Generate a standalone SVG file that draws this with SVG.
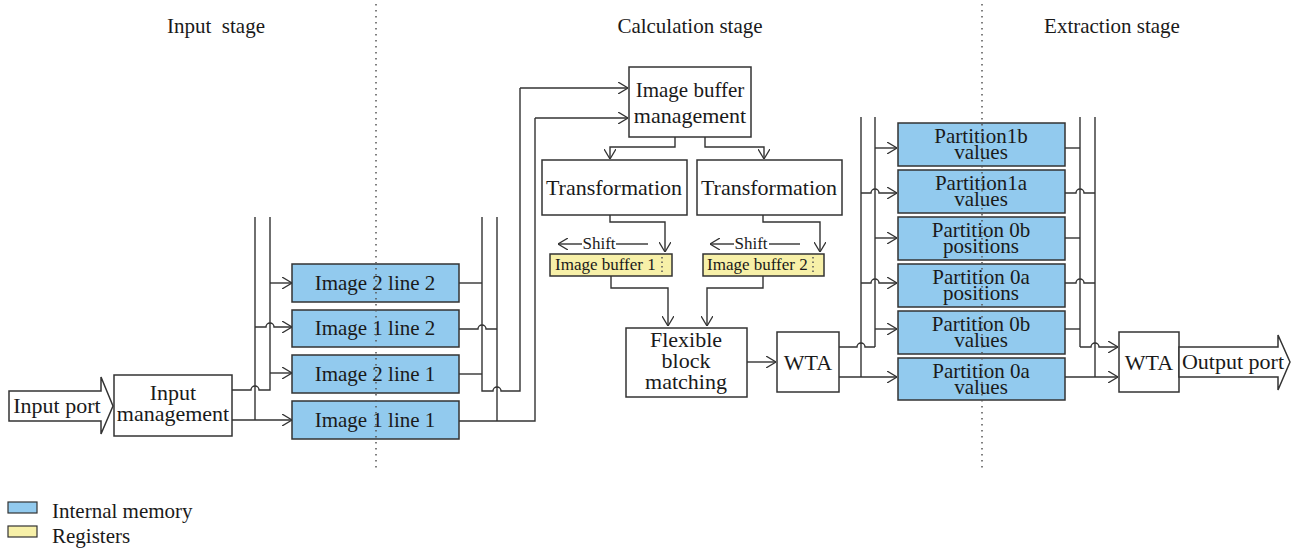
<svg xmlns="http://www.w3.org/2000/svg" width="1303" height="553" viewBox="0 0 1303 553" font-family="'Liberation Serif','Times New Roman',serif">
<defs>
<marker id="ah" viewBox="0 0 10 12" refX="10" refY="6" markerWidth="10" markerHeight="12" markerUnits="userSpaceOnUse" orient="auto">
<path d="M0,0 L10,6 L0,12" fill="none" stroke="#333" stroke-width="1.3"/>
</marker>
</defs>
<style>
text{font-family:"Liberation Serif","Times New Roman",serif;fill:#1a1a1a;}
.t{font-size:21px;text-anchor:middle;}
.p{font-size:21px;text-anchor:middle;}
.h{font-size:21px;text-anchor:middle;}
.s{font-size:17px;text-anchor:middle;}
.b{fill:#fff;stroke:#333;stroke-width:1.5;}
.m{fill:#92caee;stroke:#333;stroke-width:1.5;}
.r{fill:#f7f0a8;stroke:#333;stroke-width:1.5;}
.c{fill:none;stroke:#333;stroke-width:1.4;}
.a{fill:none;stroke:#333;stroke-width:1.4;marker-end:url(#ah);}
.d{fill:none;stroke:#555;stroke-width:1.5;stroke-dasharray:1.5,4.5;}
</style>
<rect width="1303" height="553" fill="#fff"/>

<g id="headers">
<text class="h" x="216" y="33" xml:space="preserve">Input  stage</text>
<text class="h" x="690" y="33">Calculation stage</text>
<text class="h" x="1112" y="33">Extraction stage</text>
</g>

<g id="connectors">
<path class="c" d="M232,390 H251 a4,4 0 0 1 8,0 H270 V217"/>
<path class="c" d="M255,217 V420"/>
<path class="a" d="M232,420 H292"/>
<path class="a" d="M255,327 H266 a4,4 0 0 1 8,0 H292"/>
<path class="a" d="M270,283 H292"/>
<path class="a" d="M270,373 H292"/>
<path class="c" d="M459,283 H482"/>
<path class="c" d="M459,329 H478 a4,4 0 0 1 8,0 H497"/>
<path class="c" d="M459,374 H482"/>
<path class="c" d="M482,217 V391 H493 a4,4 0 0 1 8,0 H520 V88"/>
<path class="c" d="M497,217 V421"/>
<path class="c" d="M459,421 H535 V118"/>
<path class="a" d="M520,88 H628"/>
<path class="a" d="M535,118 H628"/>
<path class="a" d="M675,137 V147 H610 V159"/>
<path class="a" d="M705,137 V147 H764 V159"/>
<path class="a" d="M610,215 V222 H665 V252"/>
<path class="a" d="M763,215 V222 H820 V252"/>
<path class="a" d="M582,244 H558"/>
<path class="c" d="M616,244 H648"/>
<path class="a" d="M734,244 H710"/>
<path class="c" d="M769,244 H800"/>
<path class="a" d="M611,276 V288 H668 V326"/>
<path class="a" d="M763,276 V288 H707 V326"/>
<path class="a" d="M747,362 H776"/>
<path class="c" d="M839,347 H857 a4,4 0 0 1 8,0 H875"/>
<path class="a" d="M839,377 H897"/>
<path class="c" d="M861,117 V377"/>
<path class="c" d="M875,117 V347"/>
<path class="a" d="M875,148 H897"/>
<path class="a" d="M875,238 H897"/>
<path class="a" d="M875,329 H897"/>
<path class="a" d="M861,193 H871 a4,4 0 0 1 8,0 H897"/>
<path class="a" d="M861,283 H871 a4,4 0 0 1 8,0 H897"/>
<path class="c" d="M1065,148 H1080"/>
<path class="c" d="M1065,238 H1080"/>
<path class="c" d="M1065,329 H1080"/>
<path class="c" d="M1065,193 H1076 a4,4 0 0 1 8,0 H1095"/>
<path class="c" d="M1065,283 H1076 a4,4 0 0 1 8,0 H1095"/>
<path class="c" d="M1080,117 V347"/>
<path class="c" d="M1095,117 V377"/>
<path class="a" d="M1080,347 H1091 a4,4 0 0 1 8,0 H1118"/>
<path class="a" d="M1065,377 H1118"/>
</g>

<g id="input-port">
<path class="b" d="M9,391 H101 V377 L113,406 L101,434 V421 H9 Z"/>
<text x="57" y="413" class="t" style="font-size:22px">Input port</text>
</g>

<g id="input-management">
<rect class="b" x="114" y="375" width="118" height="61"/>
<text class="t" x="173" y="400" style="font-size:22px">Input</text>
<text class="t" x="173" y="421" style="font-size:22px">management</text>
</g>

<g id="image2-line2">
<rect class="m" x="292" y="264" width="167" height="38"/>
<text class="t" x="375" y="290">Image 2 line 2</text>
</g>
<g id="image1-line2">
<rect class="m" x="292" y="310" width="167" height="37"/>
<text class="t" x="375" y="335">Image 1 line 2</text>
</g>
<g id="image2-line1">
<rect class="m" x="292" y="355" width="167" height="38"/>
<text class="t" x="375" y="381">Image 2 line 1</text>
</g>
<g id="image1-line1">
<rect class="m" x="292" y="401" width="167" height="38"/>
<text class="t" x="375" y="427">Image 1 line 1</text>
</g>

<g id="image-buffer-management">
<rect class="b" x="629" y="67" width="122" height="70"/>
<text class="t" x="690" y="97">Image buffer</text>
<text class="t" x="690" y="123" style="font-size:22px">management</text>
</g>

<g id="transformation1">
<rect class="b" x="542" y="160" width="145" height="55"/>
<text class="t" x="614" y="195" style="font-size:22px">Transformation</text>
</g>
<g id="transformation2">
<rect class="b" x="697" y="160" width="145" height="55"/>
<text class="t" x="769" y="195" style="font-size:22px">Transformation</text>
</g>

<g id="shift-labels">
<text class="s" x="599" y="249">Shift</text>
<text class="s" x="751" y="249">Shift</text>
</g>

<g id="image-buffer1">
<rect class="r" x="550" y="254" width="122" height="22"/>
<text x="555" y="270" style="font-size:17px">Image buffer 1</text>
<line class="d" x1="662" y1="257" x2="662" y2="274" style="stroke-dasharray:1.5,3"/>
</g>
<g id="image-buffer2">
<rect class="r" x="703" y="254" width="121" height="22"/>
<text x="707" y="270" style="font-size:17px">Image buffer 2</text>
<line class="d" x1="813" y1="257" x2="813" y2="274" style="stroke-dasharray:1.5,3"/>
</g>

<g id="flexible-block-matching">
<rect class="b" x="626" y="328" width="121" height="69"/>
<text class="t" x="686" y="347" style="font-size:22px">Flexible</text>
<text class="t" x="686" y="368" style="font-size:22px">block</text>
<text class="t" x="686" y="389" style="font-size:22px">matching</text>
</g>

<g id="wta1">
<rect class="b" x="777" y="332" width="62" height="60"/>
<text class="t" x="808" y="370" style="font-size:22px">WTA</text>
</g>

<g id="partition1b-values">
<rect class="m" x="898" y="123" width="167" height="43"/>
<text class="p" x="981" y="143">Partition1b</text>
<text class="p" x="981" y="159">values</text>
</g>
<g id="partition1a-values">
<rect class="m" x="898" y="170" width="167" height="43"/>
<text class="p" x="981" y="190">Partition1a</text>
<text class="p" x="981" y="206">values</text>
</g>
<g id="partition0b-positions">
<rect class="m" x="898" y="217" width="167" height="43"/>
<text class="p" x="981" y="237">Partition 0b</text>
<text class="p" x="981" y="253">positions</text>
</g>
<g id="partition0a-positions">
<rect class="m" x="898" y="264" width="167" height="43"/>
<text class="p" x="981" y="284">Partition 0a</text>
<text class="p" x="981" y="300">positions</text>
</g>
<g id="partition0b-values">
<rect class="m" x="898" y="311" width="167" height="43"/>
<text class="p" x="981" y="331">Partition 0b</text>
<text class="p" x="981" y="347">values</text>
</g>
<g id="partition0a-values">
<rect class="m" x="898" y="358" width="167" height="42"/>
<text class="p" x="981" y="378">Partition 0a</text>
<text class="p" x="981" y="394">values</text>
</g>

<g id="wta2">
<rect class="b" x="1119" y="332" width="60" height="60"/>
<text class="t" x="1149" y="370" style="font-size:22px">WTA</text>
</g>

<g id="output-port">
<path class="b" d="M1179,347 H1278 V335 L1290,362 L1278,390 V377 H1179 Z"/>
<text class="t" x="1233" y="369" style="font-size:22px">Output port</text>
</g>

<g id="separators">
<line class="d" x1="376" y1="4" x2="376" y2="470"/>
<line class="d" x1="982" y1="4" x2="982" y2="470"/>
</g>

<g id="legend">
<rect class="m" x="8" y="502" width="29" height="11" style="stroke-width:1.2"/>
<text x="52" y="518" style="font-size:21px">Internal memory</text>
<rect class="r" x="8" y="526" width="29" height="11" style="stroke-width:1.2"/>
<text x="52" y="543" style="font-size:21px">Registers</text>
</g>
</svg>
